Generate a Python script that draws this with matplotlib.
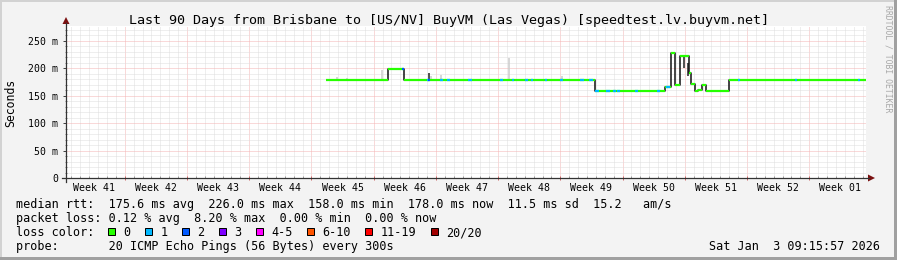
import matplotlib
matplotlib.use("Agg")
import matplotlib.pyplot as plt
from matplotlib.lines import Line2D
from matplotlib.patches import Rectangle, Polygon
import numpy as np
from datetime import datetime, timedelta

# ---------------- data ----------------
TITLE = "Last 90 Days from Brisbane to [US/NV] BuyVM (Las Vegas) [speedtest.lv.buyvm.net]"
t_start = datetime(2025, 10, 5, 9, 15, 57)
t_end = datetime(2026, 1, 3, 9, 15, 57)

week_labels = ["Week 41", "Week 42", "Week 43", "Week 44", "Week 45", "Week 46", "Week 47",
               "Week 48", "Week 49", "Week 50", "Week 51", "Week 52", "Week 01"]
ytick_values = [0, 50, 100, 150, 200, 250]
ytick_labels = ["0", "50 m", "100 m", "150 m", "200 m", "250 m"]

# median rtt (ms) as steps: day offset from start, value holding until next step
median_day = [29.25, 36.19, 38.02, 59.46, 67.39, 68.06, 68.55, 69.07, 70.12, 70.27,
              70.76, 71.10, 71.58, 71.96, 74.59]
median_ms = [178, 199, 178, 158, 166, 227, 170, 222, 191, 172,
             158, 161, 169, 158, 178]

# intervals with 1/20 loss (light blue) and 2/20 loss (blue)
loss1_start = [40.60, 42.10, 42.90, 45.20, 48.80, 50.20, 51.60, 52.30, 53.90, 55.60,
               57.80, 58.80, 59.55, 60.80, 61.50, 62.00, 64.00, 66.50, 67.45, 75.60,
               82.00, 89.10]
loss1_end = [40.80, 42.40, 43.20, 45.70, 49.20, 50.40, 52.00, 52.50, 54.10, 55.90,
             58.30, 59.30, 60.00, 61.20, 61.90, 62.30, 64.40, 66.80, 68.00, 75.80,
             82.20, 89.30]
loss2_start = [37.84, 40.72]
loss2_end = [38.02, 40.90]

# smoke (spread of the 20 pings)
smoke_day = [30.5, 31.6, 35.5, 40.8, 41.1, 42.2, 49.8, 55.8, 69.55, 70.0]
smoke_low = [178, 178, 178, 178, 178, 178, 178, 178, 200, 185]
smoke_high = [183, 182, 196, 191, 186, 187, 218, 186, 222, 210]
smoke_dark = [False, False, False, True, False, False, False, False, True, True]

stat_lines = [
    "median rtt:  175.6 ms avg  226.0 ms max  158.0 ms min  178.0 ms now  11.5 ms sd  15.2   am/s",
    "packet loss: 0.12 % avg  8.20 % max  0.00 % min  0.00 % now",
    "loss color:",
    "probe:       20 ICMP Echo Pings (56 Bytes) every 300s",
]
loss_labels = ["0", "1", "2", "3", "4-5", "6-10", "11-19", "20/20"]
loss_colors = ["#26ff00", "#00b8ff", "#0059ff", "#7e00ff", "#ff00ff", "#ff5500", "#ff0000", "#a10000"]
date_text = "Sat Jan  3 09:15:57 2026"
watermark = "RRDTOOL / TOBI OETIKER"

# ---------------- layout ----------------
W, H = 897, 260
MONO = "DejaVu Sans Mono"
plt.rcParams["font.family"] = [MONO, "DejaVu Sans"]

fig = plt.figure(figsize=(W / 100, H / 100), dpi=100, facecolor="#f3f3f3")


def fx(x):
    return x / W


def fy(y):
    return 1 - y / H


X0, X1 = 66, 866
Y0 = 178
PX_PER_MS = 0.5492
YMAX = 276
ax = fig.add_axes([fx(X0), fy(Y0), (X1 - X0) / W, YMAX * PX_PER_MS / H])
ax.set_facecolor("white")
total_days = (t_end - t_start).total_seconds() / 86400
ax.set_xlim(0, total_days)
ax.set_ylim(0, YMAX)
for s in ax.spines.values():
    s.set_visible(False)

# grid from calendar: daily minor, weekly (Sunday) major
first_midnight = datetime(t_start.year, t_start.month, t_start.day) + timedelta(days=1)
off0 = (first_midnight - t_start).total_seconds() / 86400
minor_x = np.arange(off0, total_days, 1.0)
first_sunday = first_midnight
while first_sunday.weekday() != 6:
    first_sunday += timedelta(days=1)
offw = (first_sunday - t_start).total_seconds() / 86400
major_x = np.arange(offw, total_days, 7.0)

ax.set_xticks(major_x)
ax.set_xticks(minor_x, minor=True)
ax.set_yticks(ytick_values)
ax.set_yticklabels(ytick_labels)
ax.set_yticks(np.arange(0, YMAX, 10), minor=True)
ax.set_xticklabels([])

dot = (0, (1, 1))
ax.grid(which="minor", color="#dedede", lw=0.72, ls=dot, zorder=0)
ax.grid(which="major", color="#f4b4b4", lw=0.72, ls=dot, zorder=0)
ax.set_axisbelow(True)

ax.tick_params(axis="y", which="major", direction="out", length=3 * 0.72, width=0.72,
               color="#444444", labelsize=7.1, pad=5.0 * 0.72, labelcolor="#000000")
ax.tick_params(axis="y", which="minor", direction="inout", length=2 * 0.72, width=0.72, color="#888888")
ax.tick_params(axis="x", which="major", direction="inout", length=4 * 0.72, width=0.72, color="#cc6666")
ax.tick_params(axis="x", which="minor", direction="in", length=2 * 0.72, width=0.72, color="#999999")
for lab in ax.get_yticklabels():
    lab.set_family(MONO)

# week labels at mid-week
sunday0 = first_sunday - timedelta(days=7)
for i, lab in enumerate(week_labels):
    mid = sunday0 + timedelta(days=7 * i + 3.5)
    xd = (mid - t_start).total_seconds() / 86400
    ax.text(xd, -13 / (YMAX * PX_PER_MS), lab, transform=ax.get_xaxis_transform(),
            ha="center", va="baseline", fontsize=7.1, family=MONO, color="#000000")

# smoke
for d, lo, hi, dk in zip(smoke_day, smoke_low, smoke_high, smoke_dark):
    ax.vlines(d, lo, hi, color="#222222" if dk else "#cccccc", lw=1.1, zorder=2)

# median line: black steps, colored horizontals
md = np.array(median_day + [total_days])
mv = np.array(median_ms + [median_ms[-1]])
ax.step(md, mv, where="post", color="#111111", lw=1.1, zorder=3, solid_capstyle="butt")
ax.hlines(median_ms, md[:-1], md[1:], color=loss_colors[0], lw=1.6, zorder=4)


def value_at(d):
    i = np.searchsorted(median_day, d, side="right") - 1
    return median_ms[max(i, 0)]


for s, e in zip(loss1_start, loss1_end):
    ax.hlines(value_at(s), s, e, color=loss_colors[1], lw=1.6, zorder=5)
for s, e in zip(loss2_start, loss2_end):
    ax.hlines(value_at(s), s, e, color=loss_colors[2], lw=1.6, zorder=5)

# axis lines with arrows
axcol = "#333333"
arrcol = "#7a1010"
fig.add_artist(Line2D([fx(62), fx(869)], [fy(Y0), fy(Y0)], color=axcol, lw=0.9))
fig.add_artist(Line2D([fx(X0), fx(X0)], [fy(182), fy(23)], color=axcol, lw=0.9))
fig.add_artist(Polygon([[fx(868), fy(174.5)], [fx(868), fy(181.5)], [fx(875), fy(Y0)]],
                       closed=True, transform=fig.transFigure, color=arrcol, lw=0))
fig.add_artist(Polygon([[fx(62.5), fy(24)], [fx(69.5), fy(24)], [fx(X0), fy(17)]],
                       closed=True, transform=fig.transFigure, color=arrcol, lw=0))

# texts
fig.text(fx(448.5), fy(24), TITLE, ha="center", va="baseline", fontsize=9.6, family=MONO)
fig.text(fx(10.5), fy(103), "Seconds", rotation=90, ha="center", va="center", fontsize=8.3, family=MONO)
fig.text(fx(888), fy(59), watermark, rotation=270, ha="center", va="center", fontsize=5.9,
         family=MONO, color="#a8a8a8")

baselines = [208, 222, 236, 250]
for txt, b in zip(stat_lines, baselines):
    fig.text(fx(16), fy(b), txt, ha="left", va="baseline", fontsize=8.5, family=MONO)

CH = 7.1
bx = 108.3
for lab, col in zip(loss_labels, loss_colors):
    fig.add_artist(Rectangle((fx(bx), fy(235)), 7 / W, 7 / H, transform=fig.transFigure,
                             facecolor=col, edgecolor="#000000", lw=0.72))
    fig.text(fx(bx + 15), fy(236), lab, ha="left", va="baseline", fontsize=8.5, family=MONO)
    bx += (len(lab) + 4.2) * CH

fig.text(fx(880), fy(250), date_text, ha="right", va="baseline", fontsize=8.5, family=MONO)

# frame
fig.add_artist(Rectangle((0, fy(2)), 1, 2 / H, transform=fig.transFigure, color="#d2d2d2", lw=0))
fig.add_artist(Rectangle((0, 0), 2 / W, 1, transform=fig.transFigure, color="#d2d2d2", lw=0))
fig.add_artist(Rectangle((0, 0), 1, 3 / H, transform=fig.transFigure, color="#a0a0a0", lw=0))
fig.add_artist(Rectangle((1 - 3.5 / W, 0), 3.5 / W, 1, transform=fig.transFigure, color="#a0a0a0", lw=0))

fig.savefig("out.png", dpi=100, facecolor=fig.get_facecolor())
